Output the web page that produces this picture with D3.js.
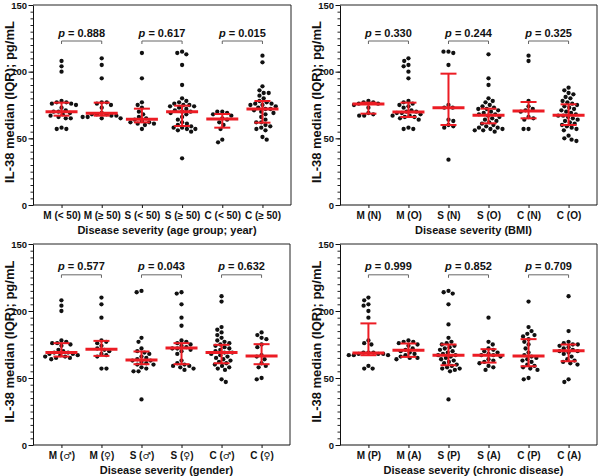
<!DOCTYPE html>
<html><head><meta charset="utf-8">
<script src="https://cdn.jsdelivr.net/npm/d3@7/dist/d3.min.js"></script>
<style>body{margin:0;background:#fff}svg{display:block}</style>
</head><body>
<svg id="chart" width="600" height="476"></svg>
<script>
// ---------- data ----------
const yTickValues = [0, 50, 100, 150];

const catsAge = ["M (< 50)", "M (≥ 50)", "S (< 50)", "S (≥ 50)", "C (< 50)", "C (≥ 50)"];
const catsBMI = ["M (N)", "M (O)", "S (N)", "S (O)", "C (N)", "C (O)"];
const catsGender = ["M (♂)", "M (♀)", "S (♂)", "S (♀)", "C (♂)", "C (♀)"];
const catsChronic = ["M (P)", "M (A)", "S (P)", "S (A)", "C (P)", "C (A)"];

const xTitles = ["Disease severity (age group; year)", "Disease severity (BMI)",
                 "Disease severity (gender)", "Disease severity (chronic disease)"];
const yTitle = "IL-38 median (IQR); pg/mL";

const pAge = ["0.888", "0.617", "0.015"];
const pBMI = ["0.330", "0.244", "0.325"];
const pGender = ["0.577", "0.043", "0.632"];
const pChronic = ["0.999", "0.852", "0.709"];

const valuesAge = [
  [108,104,100,78,77,77,76,76,75,73,71,70,70,69,68,67,66,65,65,58,57,57],
  [110,105,95,77,77,76,75,73,69,68,68,68,67,67,66,66,65,65],
  [114,95,77,75,73,70,68,66,65,64,63,62,62,61,61,60,57],
  [115,114,113,105,90,80,78,77,76,75,75,74,74,73,72,71,70,70,69,68,66,64,62,61,60,59,58,58,57,57,56,55,35],
  [70,70,69,68,67,65,64,62,60,57,49,47],
  [112,107,89,86,84,84,82,80,78,77,76,76,75,75,74,73,72,72,71,70,69,68,66,64,62,62,60,59,58,57,56,51,49]
];
const medAge = [70, 68.75, 64.25, 70, 64.5, 72];
const q1Age = [67, 67, 62, 59.25, 58, 61.75];
const q3Age = [76.75, 76.75, 72.25, 74.5, 68.25, 78];

const valuesBMI = [
  [78,77,77,76,76,75,73,69,68,67,67],
  [110,108,105,104,100,95,78,77,76,75,74,73,71,70,70,69,69,68,67,67,66,66,65,64,58,57,57],
  [115,115,114,105,75,73,73,64,63,60,59,58,34],
  [113,95,90,80,78,77,75,74,73,72,72,71,70,69,68,68,67,66,65,64,63,62,61,60,59,58,58,57,57,56,56,55],
  [112,108,78,74,72,71,70,66,65,64,57,57],
  [88,86,84,83,81,80,78,77,76,75,74,73,72,71,70,69,68,67,67,66,65,64,63,62,61,60,59,58,57,56,52,50,49,48]
];
const medBMI = [75.75, 69.75, 73, 67.25, 70.5, 67.25];
const q1BMI = [68.5, 66, 60, 61.25, 65, 60];
const q3BMI = [76.75, 76.75, 98.5, 72.25, 77.25, 75.5];

const valuesGender = [
  [108,104,100,78,77,76,76,75,74,71,70,69,69,68,68,67,67,66,66,65,65,64],
  [110,105,95,78,77,76,74,72,71,70,68,67,66,57,57],
  [115,114,80,77,72,70,69,68,66,65,64,63,63,62,61,60,60,58,57,55,55,34],
  [114,113,105,95,89,78,77,76,75,74,73,72,72,71,70,68,63,61,60,59,59,58,57,56],
  [111,107,88,86,84,82,80,78,77,76,75,74,73,72,71,70,69,69,68,67,66,65,64,63,62,61,60,59,58,57,56,49,47],
  [84,82,80,79,75,73,67,66,64,61,59,58,50,49]
];
const medGender = [69, 71.5, 63.5, 72.3, 69, 66.5];
const q1Gender = [66, 66.5, 60.3, 60.3, 61, 60.3];
const q3Gender = [76, 77.7, 69.8, 76, 74.75, 75.25];

const valuesChronic = [
  [110,108,105,104,100,95,78,76,75,69,69,69,68,68,68,67,67,67,59,57,57],
  [78,77,77,76,75,74,72,71,70,69,68,67,66,65,65,64],
  [115,114,113,105,90,80,77,76,75,74,73,72,71,70,69,68,67,67,66,65,64,63,62,61,60,59,58,57,57,56,55,34],
  [95,77,75,72,71,70,69,68,67,67,66,64,63,62,61,59,58,56],
  [107,88,85,83,82,81,79,77,75,72,69,67,66,65,64,63,62,60,59,58,57,56,50,49],
  [111,85,77,76,75,75,74,73,72,71,70,70,69,68,66,64,63,62,61,60,49,47]
];
const medChronic = [68.75, 70.75, 67, 67, 66.5, 70.25];
const q1Chronic = [67, 65.75, 59.5, 61.5, 58.75, 62.5];
const q3Chronic = [90.75, 75.75, 75, 71.5, 79, 75];

// ---------- layout ----------
const FONT = "'Liberation Sans', Arial, Helvetica, sans-serif";
const RED = "#ec1c24";
const panels = [
  {x0:33, x1:291, yT:5,   yB:205, cats:catsAge,     vals:valuesAge,     med:medAge,     q1:q1Age,     q3:q3Age,     p:pAge,     brk:123, title:xTitles[0]},
  {x0:340, x1:597, yT:5,  yB:205, cats:catsBMI,     vals:valuesBMI,     med:medBMI,     q1:q1BMI,     q3:q3BMI,     p:pBMI,     brk:123, title:xTitles[1]},
  {x0:33, x1:290, yT:244, yB:445, cats:catsGender,  vals:valuesGender,  med:medGender,  q1:q1Gender,  q3:q3Gender,  p:pGender,  brk:127, title:xTitles[2]},
  {x0:340, x1:597, yT:244, yB:445, cats:catsChronic, vals:valuesChronic, med:medChronic, q1:q1Chronic, q3:q3Chronic, p:pChronic, brk:127, title:xTitles[3]}
];

const svg = d3.select("#chart");
const R = 2.15;

function swarm(vals, y, r) {
  const d = 2 * r + 0.7;
  const pts = vals.map(v => ({v, y: y(v), x: 0}));
  const placed = [];
  let flip = 1;
  pts.forEach(p => {
    const cands = [0];
    placed.forEach(q => {
      const dy = Math.abs(q.y - p.y);
      if (dy < d) {
        const dx = Math.sqrt(d * d - dy * dy);
        cands.push(q.x + dx, q.x - dx);
      }
    });
    flip = -flip;
    cands.sort((a, b) => Math.abs(a) - Math.abs(b) || (a - b) * flip);
    for (const c of cands) {
      const ok = placed.every(q => (q.x - c) ** 2 + (q.y - p.y) ** 2 >= d * d - 1e-6);
      if (ok) { p.x = c; break; }
    }
    placed.push(p);
  });
  return pts;
}

panels.forEach(P => {
  const g = svg.append("g");
  const y = d3.scaleLinear().domain([0, 150]).range([P.yB, P.yT]);
  const x = d3.scalePoint().domain(P.cats).range([P.x0, P.x1]).padding(0.71);

  // frame (top, right)
  g.append("path").attr("d", `M${P.x0},${P.yT}H${P.x1}V${P.yB}`)
    .attr("fill", "none").attr("stroke", "#222").attr("stroke-width", 1);

  // minor y ticks
  const yMinor = d3.axisLeft(y).tickValues(d3.range(0, 151, 5)).tickSize(2.5).tickFormat("");
  g.append("g").attr("transform", `translate(${P.x0},0)`).call(yMinor)
    .call(s => s.select(".domain").remove())
    .selectAll("line").attr("stroke", "#222");

  // major y axis
  const yAxis = d3.axisLeft(y).tickValues(yTickValues).tickSize(4.5).tickPadding(1.5).tickSizeOuter(0);
  const ya = g.append("g").attr("transform", `translate(${P.x0},0)`).call(yAxis);
  ya.select(".domain").attr("stroke", "#111");
  ya.selectAll("line").attr("stroke", "#111");
  ya.selectAll("text").attr("font-family", FONT).attr("font-weight", "bold")
    .attr("font-size", 9.5).attr("fill", "#111");

  // x axis
  const xAxis = d3.axisBottom(x).tickSize(3).tickPadding(3.5).tickSizeOuter(0);
  const xa = g.append("g").attr("transform", `translate(0,${P.yB})`).call(xAxis);
  xa.select(".domain").attr("d", `M${P.x0},0H${P.x1}`).attr("stroke", "#111");
  xa.selectAll("line").attr("stroke", "#111");
  xa.selectAll("text").attr("font-family", FONT).attr("font-weight", "bold")
    .attr("font-size", 10).attr("fill", "#111")
    .each(function(d) {
      const m = d.match(/^(.*\()([♂♀])(\))$/);
      if (m) {
        const t = d3.select(this).text(null);
        t.append("tspan").text(m[1]);
        t.append("tspan").attr("font-family", "'DejaVu Sans', sans-serif")
          .attr("font-weight", "normal").attr("font-size", 9.5).text(m[2]);
        t.append("tspan").text(m[3]);
      }
    });

  // x title
  g.append("text").attr("x", (P.x0 + P.x1) / 2 + 5).attr("y", P.yB + 28.5)
    .attr("text-anchor", "middle").attr("font-family", FONT).attr("font-weight", "bold")
    .attr("font-size", 11).attr("fill", "#111").text(P.title);

  // y title
  g.append("text").attr("transform", `translate(${P.x0 - 19.5},${(P.yT + P.yB) / 2 - 3}) rotate(-90)`)
    .attr("text-anchor", "middle").attr("font-family", FONT).attr("font-weight", "bold")
    .attr("font-size", 13).attr("fill", "#111").text(yTitle);

  // dots
  P.cats.forEach((c, i) => {
    const pts = swarm(P.vals[i], y, R);
    g.append("g").selectAll("circle").data(pts).join("circle")
      .attr("cx", d => x(c) + d.x).attr("cy", d => d.y).attr("r", R).attr("fill", "#111");
  });

  // median + IQR
  P.cats.forEach((c, i) => {
    const cx = x(c);
    const gg = g.append("g").attr("stroke", RED).attr("fill", "none");
    gg.append("line").attr("x1", cx).attr("x2", cx).attr("y1", y(P.q1[i])).attr("y2", y(P.q3[i])).attr("stroke-width", 2);
    gg.append("line").attr("x1", cx - 8).attr("x2", cx + 8).attr("y1", y(P.q1[i])).attr("y2", y(P.q1[i])).attr("stroke-width", 2);
    gg.append("line").attr("x1", cx - 8).attr("x2", cx + 8).attr("y1", y(P.q3[i])).attr("y2", y(P.q3[i])).attr("stroke-width", 2);
    gg.append("line").attr("x1", cx - 16).attr("x2", cx + 16).attr("y1", y(P.med[i])).attr("y2", y(P.med[i])).attr("stroke-width", 3);
  });

  // brackets & p-values
  P.p.forEach((pv, k) => {
    const a = x(P.cats[2 * k]), b = x(P.cats[2 * k + 1]);
    const by = y(P.brk);
    g.append("path").attr("d", `M${a},${by + 3}V${by}H${b}V${by + 3}`)
      .attr("fill", "none").attr("stroke", "#666").attr("stroke-width", 1);
    const t = g.append("text").attr("x", (a + b) / 2).attr("y", by - 4.5)
      .attr("text-anchor", "middle").attr("font-family", FONT).attr("font-weight", "bold")
      .attr("font-size", 11).attr("fill", "#111");
    t.append("tspan").attr("font-style", "italic").text("p");
    t.append("tspan").text(" = " + pv);
  });
});
</script>
</body></html>
